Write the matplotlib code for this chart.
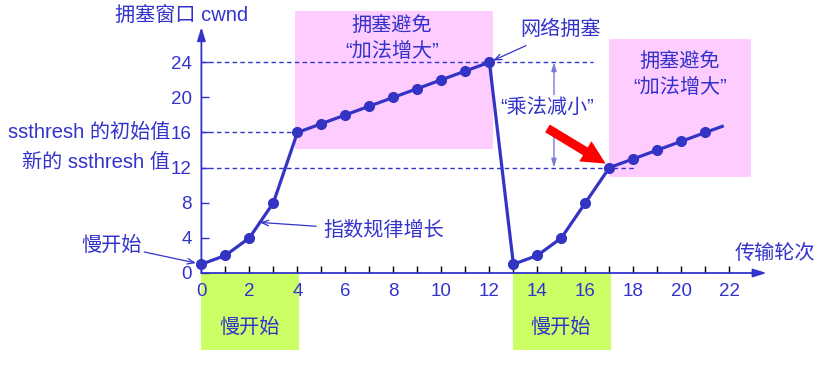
import matplotlib
matplotlib.use('Agg')
import matplotlib.pyplot as plt
from matplotlib.patches import Rectangle, FancyArrowPatch

plt.rcParams['font.family'] = ['Liberation Sans', 'Noto Sans CJK SC']

# Transmission rounds and congestion window (in segments)
rounds = list(range(0, 22))
cwnd = [1, 2, 4, 8, 16, 17, 18, 19, 20, 21, 22, 23, 24,
        1, 2, 4, 8, 12, 13, 14, 15, 16]
# growth continues past the last plotted round
tail_rounds = [21, 21.7]
tail_cwnd = [16, 16.7]

ssthresh_init = 16
ssthresh_new = 12
cwnd_peak = 24

x_ticks = list(range(0, 23, 2))
x_minor = list(range(1, 23, 2))
y_ticks = list(range(0, 25, 4))

BLUE = '#3333CC'
LINE = '#3434C4'
PINK = '#FFCCFF'
GREEN = '#CCFF66'
TXT = 14.5

fig = plt.figure(figsize=(8.21, 3.66), dpi=100)
ax = fig.add_axes([0.2453, 0.2541, 0.687, 0.6694])
ax.set_xlim(0, 23.5)
ax.set_ylim(0, 27.9)
for s in ax.spines.values():
    s.set_visible(False)

# phase backgrounds
ax.add_patch(Rectangle((3.9, 14.1), 8.26, 15.7, facecolor=PINK, edgecolor='none',
                       zorder=0.5, clip_on=False))
ax.add_patch(Rectangle((17.0, 10.9), 5.9, 15.8, facecolor=PINK, edgecolor='none',
                       zorder=0.5, clip_on=False))
ax.add_patch(Rectangle((0.0, -8.75), 4.07, 8.7, facecolor=GREEN, edgecolor='none',
                       zorder=0.5, clip_on=False))
ax.add_patch(Rectangle((12.97, -8.8), 4.08, 8.75, facecolor=GREEN, edgecolor='none',
                       zorder=0.5, clip_on=False))

# axes with arrowheads
arrow_kw = dict(arrowstyle='-|>,head_length=0.8,head_width=0.25', color=BLUE,
                lw=1.3, shrinkA=0, shrinkB=0, mutation_scale=10)
ax.annotate('', xy=(23.55, 0), xytext=(0, 0), arrowprops=arrow_kw,
            annotation_clip=False, zorder=3)
ax.annotate('', xy=(0, 28.0), xytext=(0, 0), arrowprops=arrow_kw,
            annotation_clip=False, zorder=3)

# ticks
ax.set_xticks(x_ticks)
ax.set_xticks(x_minor, minor=True)
ax.set_yticks(y_ticks)
ax.tick_params(axis='x', which='both', direction='in', length=4.8, width=1,
               color='black', labelcolor=BLUE, labelsize=13.5, pad=7)
ax.tick_params(axis='y', direction='in', length=5.8, width=1,
               color=BLUE, labelcolor=BLUE, labelsize=13.5, pad=7)

# threshold guide lines
dash = (0, (3.2, 2.4))
ax.plot([0, 16.3], [cwnd_peak, cwnd_peak], color=BLUE, lw=1, linestyle=dash, zorder=1)
ax.plot([0, 4], [ssthresh_init, ssthresh_init], color=BLUE, lw=1, linestyle=dash, zorder=1)
ax.plot([0, 18.1], [ssthresh_new, ssthresh_new], color=BLUE, lw=1, linestyle=dash, zorder=1)

# congestion window curve
ax.plot(tail_rounds, tail_cwnd, color=LINE, lw=2.3, zorder=4, clip_on=False)
ax.plot(rounds, cwnd, color=LINE, lw=2.3, marker='o', markersize=7, zorder=5,
        clip_on=False)

# labels
ax.text(1.95, 29.2, '拥塞窗口 cwnd', color=BLUE, fontsize=TXT, ha='right',
        va='center', clip_on=False)
ax.text(23.9, 2.2, '传输轮次', color=BLUE, fontsize=TXT, ha='center', va='center',
        clip_on=False)
ax.text(-1.3, ssthresh_init, 'ssthresh 的初始值', color=BLUE, fontsize=TXT,
        ha='right', va='center', clip_on=False)
ax.text(-1.3, 12.6, '新的 ssthresh 值', color=BLUE, fontsize=TXT,
        ha='right', va='center', clip_on=False)

thin = dict(arrowstyle='->,head_length=0.5,head_width=0.2', color=BLUE, lw=0.9,
            shrinkA=0, shrinkB=4, mutation_scale=10)
ax.annotate('慢开始', xy=(0, 1), xytext=(-2.5, 3.2), color=BLUE, fontsize=TXT,
            ha='right', va='center', arrowprops=thin, annotation_clip=False)
ax.annotate('指数规律增长', xy=(2.44, 5.76), xytext=(5.07, 4.8), color=BLUE,
            fontsize=TXT, ha='left', va='center',
            arrowprops=dict(thin, shrinkA=3, shrinkB=0), annotation_clip=False)
ax.annotate('网络拥塞', xy=(12, 24), xytext=(13.3, 27.7), color=BLUE, fontsize=TXT,
            ha='left', va='center', arrowprops=dict(thin, shrinkA=6, shrinkB=3),
            annotation_clip=False)

ax.text(7.94, 26.7, '拥塞避免\n“加法增大”', color=BLUE, fontsize=TXT, ha='center',
        va='center', linespacing=1.45, clip_on=False)
ax.text(19.94, 22.6, '拥塞避免\n“加法增大”', color=BLUE, fontsize=TXT, ha='center',
        va='center', linespacing=1.45, clip_on=False)
ax.text(14.4, 18.9, '“乘法减小”', color=BLUE, fontsize=TXT, ha='center',
        va='center', clip_on=False)

ax.text(2.02, -6.15, '慢开始', color=BLUE, fontsize=TXT, ha='center', va='center',
        clip_on=False)
ax.text(14.98, -6.15, '慢开始', color=BLUE, fontsize=TXT, ha='center', va='center',
        clip_on=False)

# multiplicative decrease span
span_kw = dict(arrowstyle='-|>,head_length=0.5,head_width=0.15', color='#7A7AD8',
               lw=1, shrinkA=0, shrinkB=0, mutation_scale=10)
ax.annotate('', xy=(14.69, cwnd_peak), xytext=(14.69, 20.3), arrowprops=span_kw)
ax.annotate('', xy=(14.69, ssthresh_new), xytext=(14.69, 15.5), arrowprops=span_kw)

# red pointer to the new threshold
ax.add_patch(FancyArrowPatch((14.32, 16.63), (16.94, 12.3),
                             arrowstyle='simple,head_width=17,head_length=17,tail_width=6.5',
                             mutation_scale=1, color='#FF0000', lw=0, zorder=6,
                             clip_on=False))

fig.savefig('out.png', dpi=100)
